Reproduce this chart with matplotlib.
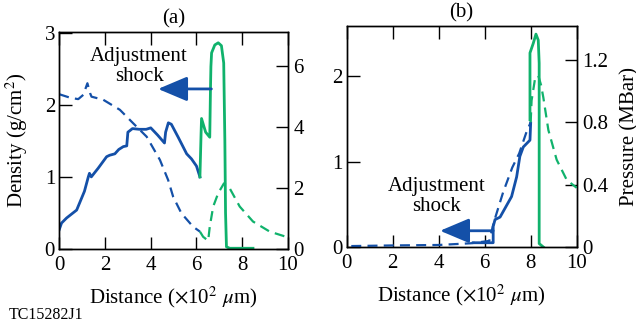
import numpy as np
import matplotlib
matplotlib.use('Agg')
import matplotlib.pyplot as plt

plt.rcParams['font.family'] = ['Liberation Serif', 'DejaVu Serif']
plt.rcParams['mathtext.fontset'] = 'stix'
plt.rcParams['font.size'] = 15

BLUE = '#1450A8'
GREEN = '#10B26C'

## panel (a): density (left axis, solid) and pressure (right axis, dashed)
a_den_blue_x = [0, 0.1, 0.32, 0.76, 1.1, 1.27, 1.32, 1.4, 1.7, 2.07, 2.2, 2.43, 2.6, 2.8, 2.95, 3.0, 3.2, 3.5, 3.8, 4.0, 4.3, 4.6, 4.65, 4.77, 4.9, 5.2, 5.57, 5.78, 6.0, 6.15]
a_den_blue_y = [0.27, 0.36, 0.43, 0.54, 0.8, 1.0, 1.05, 1.0, 1.12, 1.28, 1.3, 1.32, 1.38, 1.42, 1.43, 1.62, 1.67, 1.66, 1.66, 1.68, 1.58, 1.47, 1.62, 1.75, 1.73, 1.55, 1.32, 1.25, 1.15, 1.0]
a_den_green_x = [6.15, 6.2, 6.22, 6.4, 6.58, 6.61, 6.63, 6.66, 6.8, 6.95, 7.09, 7.19, 7.24, 7.27, 7.31, 7.45, 8.47]
a_den_green_y = [1.0, 1.6, 1.81, 1.62, 1.55, 2.2, 2.53, 2.72, 2.83, 2.86, 2.82, 2.58, 1.5, 0.5, 0.03, 0.01, 0.01]

a_pres_blue_x = [0, 0.5, 0.83, 1.05, 1.23, 1.35, 1.41, 1.92, 2.65, 3.23, 3.82, 4.4, 4.76, 4.98, 5.34, 5.85, 6.15]
a_pres_blue_y = [5.07, 4.95, 4.91, 5.05, 5.43, 5.1, 4.99, 4.89, 4.56, 4.12, 3.68, 2.92, 2.26, 1.71, 1.17, 0.73, 0.57]
a_pres_green_x = [6.15, 6.29, 6.51, 6.58, 6.73, 6.95, 7.2, 7.45, 7.89, 8.47, 9.2, 10.0]
a_pres_green_y = [0.57, 0.40, 0.27, 0.73, 1.39, 1.83, 2.15, 1.99, 1.39, 0.90, 0.57, 0.38]

## panel (b)
b_den_blue_x = [5.5, 6.37, 6.37, 6.45, 6.67, 7.17, 7.39, 7.53, 7.68, 7.97, 8.0]
b_den_blue_y = [0.05, 0.05, 0.24, 0.32, 0.35, 0.59, 0.82, 1.06, 1.17, 1.25, 1.45]
b_den_green_x = [7.97, 7.97, 8.11, 8.23, 8.33, 8.37, 8.37, 8.55]
b_den_green_y = [1.49, 2.27, 2.38, 2.49, 2.42, 2.15, 0.04, 0.0]

b_pres_blue_x = [0.2, 2.0, 4.0, 5.4, 6.2, 6.4, 6.8, 7.2, 7.5, 7.8, 8.0]
b_pres_blue_y = [0.006, 0.01, 0.013, 0.024, 0.039, 0.16, 0.35, 0.51, 0.60, 0.73, 0.80]
b_pres_green_x = [8.0, 8.04, 8.19, 8.33, 8.45, 8.55, 8.77, 9.13, 9.57, 10.0]
b_pres_green_y = [0.80, 0.94, 1.08, 1.10, 1.04, 0.96, 0.75, 0.56, 0.43, 0.38]

xlabel = r'Distance ($\times$10$^2$ $\mu$m)'

fig = plt.figure(figsize=(6.36, 3.3), dpi=100)
axa = fig.add_axes([0.0932, 0.2455, 0.3596, 0.6576])
axb = fig.add_axes([0.5451, 0.2515, 0.3616, 0.6697])
axa2 = axa.twinx()
axb2 = axb.twinx()

dash = (0, (4.5, 2.8))
lw = 2.0

axa.plot(a_den_blue_x, a_den_blue_y, color=BLUE, lw=lw)
axa.plot(a_den_green_x, a_den_green_y, color=GREEN, lw=lw)
axa2.plot(a_pres_blue_x, a_pres_blue_y, color=BLUE, lw=1.6, ls=dash)
axa2.plot(a_pres_green_x, a_pres_green_y, color=GREEN, lw=1.6, ls=dash)

axb.plot(b_den_blue_x, b_den_blue_y, color=BLUE, lw=lw)
axb.plot(b_den_green_x, b_den_green_y, color=GREEN, lw=lw)
axb2.plot(b_pres_blue_x, b_pres_blue_y, color=BLUE, lw=1.6, ls=dash)
axb2.plot(b_pres_green_x, b_pres_green_y, color=GREEN, lw=1.6, ls=dash)

axa.set_xlim(0, 10)
axa.set_ylim(0, 3.01)
axa2.set_ylim(0, 7.11)
axb.set_xlim(0, 10)
axb.set_ylim(0, 2.585)
axb2.set_ylim(0, 1.418)

axa.set_xticks([0, 2, 4, 6, 8, 10])
axa.set_yticks([0, 1, 2, 3])
axa2.set_yticks([0, 2, 4, 6])
axb.set_xticks([0, 2, 4, 6, 8, 10])
axb.set_yticks([0, 1, 2])
axb2.set_yticks([0, 0.4, 0.8, 1.2])
axb2.set_yticklabels(['0', '0.4', '0.8', '1.2'])

for ax in (axa, axb):
    ax.tick_params(direction='in', length=9, width=1, top=True, pad=3)
    ax.tick_params(axis='x', pad=5)
for ax in (axa2, axb2):
    ax.tick_params(direction='in', length=9, width=1, pad=4)
for ax in (axa, axa2, axb, axb2):
    for s in ax.spines.values():
        s.set_linewidth(1.0)

axa.set_ylabel(r'Density (g/cm$^2$)')
axa.yaxis.set_label_coords(-0.13, 0.5)
axb2.set_ylabel('Pressure (MBar)')
axb2.yaxis.set_label_coords(1.19, 0.5)
axa.set_xlabel(xlabel, labelpad=7)
axb.set_xlabel(xlabel, labelpad=7)
axa.set_title('(a)', fontsize=15, pad=6)
axb.set_title('(b)', fontsize=15, pad=6)

# adjustment shock arrows
arrow_style = '-|>,head_length=0.9,head_width=0.38'
axa.annotate('', xy=(4.32, 2.22), xytext=(6.65, 2.22),
             arrowprops=dict(arrowstyle=arrow_style, mutation_scale=20, color=BLUE, lw=2, shrinkA=0, shrinkB=0))
axa.text(3.49, 2.53, 'Adjustment\nshock', ha='center', va='center', linespacing=1.1)
axb.annotate('', xy=(4.06, 0.19), xytext=(6.37, 0.19),
             arrowprops=dict(arrowstyle=arrow_style, mutation_scale=20, color=BLUE, lw=2, shrinkA=0, shrinkB=0))
axb.text(3.91, 0.59, 'Adjustment\nshock', ha='center', va='center', linespacing=1.1)

fig.text(0.013, 0.045, 'TC15282J1', fontsize=11.5, ha='left', va='center')

fig.savefig('out.png', dpi=100)
